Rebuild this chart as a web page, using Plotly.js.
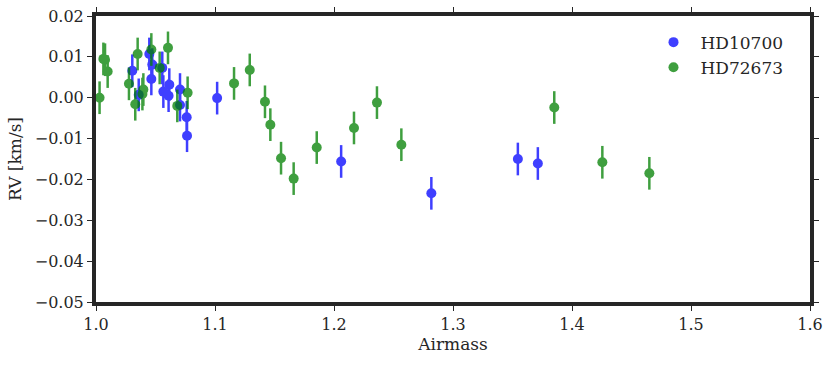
<!DOCTYPE html>
<html>
<head>
<meta charset="utf-8">
<script src="https://cdn.plot.ly/plotly-3.0.1.min.js"></script>
<style>
  html, body { margin: 0; padding: 0; background: #fff; }
  #chart { width: 830px; height: 365px; }
</style>
</head>
<body>
<div id="chart"></div>
<script>
// HD10700 (blue)
const hd10700Airmass = [1.0305, 1.0359, 1.0448, 1.0473, 1.0465, 1.0557, 1.0616, 1.0566, 1.0610,
  1.0706, 1.0706, 1.0762, 1.0765, 1.1018, 1.2060, 1.2818, 1.3545, 1.3713]
const hd10700Rv = [0.0066, 0.0007, 0.0107, 0.0081, 0.0046, 0.0073, 0.0032, 0.0015, 0.0005,
  0.0020, -0.0018, -0.0048, -0.0093, -0.0001, -0.0156, -0.0234, -0.0150, -0.0161]
const hd10700Err = [0.004, 0.004, 0.004, 0.004, 0.004, 0.004, 0.004, 0.004, 0.004,
  0.004, 0.004, 0.004, 0.004, 0.004, 0.004, 0.004, 0.004, 0.004]

// HD72673 (green)
const hd72673Airmass = [1.0030, 1.0062, 1.0076, 1.0098, 1.0277, 1.0350, 1.0330, 1.0398, 1.0390,
  1.0465, 1.0535, 1.0605, 1.0683, 1.0770, 1.1160, 1.1292, 1.1420, 1.1465, 1.1555, 1.1661,
  1.1855, 1.2168, 1.2361, 1.2566, 1.3851, 1.4255, 1.4650]
const hd72673Rv = [0.0000, 0.0095, 0.0093, 0.0064, 0.0034, 0.0107, -0.0016, 0.0020, 0.0009,
  0.0118, 0.0073, 0.0122, -0.0020, 0.0012, 0.0035, 0.0068, -0.0010, -0.0066, -0.0148, -0.0198,
  -0.0122, -0.0074, -0.0012, -0.0115, -0.0024, -0.0158, -0.0185]
const hd72673Err = [0.004, 0.004, 0.004, 0.004, 0.004, 0.004, 0.004, 0.004, 0.004,
  0.004, 0.004, 0.004, 0.004, 0.004, 0.004, 0.004, 0.004, 0.004, 0.004, 0.004,
  0.004, 0.004, 0.004, 0.004, 0.004, 0.004, 0.004]

const xTicks = [1.0, 1.1, 1.2, 1.3, 1.4, 1.5, 1.6]
const yTicks = [0.02, 0.01, 0.00, -0.01, -0.02, -0.03, -0.04, -0.05]

const font = 'DejaVu Serif, serif'
const frame = '#262626'

function series (name, x, y, err, color) {
  return {
    x: x,
    y: y,
    name: name,
    type: 'scatter',
    mode: 'markers',
    opacity: 0.75,
    marker: { color: color, size: 10, line: { width: 0 } },
    error_y: { type: 'data', array: err, visible: true, color: color, thickness: 2.5, width: 0 },
  }
}

const data = [
  series('HD10700', hd10700Airmass, hd10700Rv, hd10700Err, 'rgb(0,0,255)'),
  series('HD72673', hd72673Airmass, hd72673Rv, hd72673Err, 'rgb(0,128,0)'),
]

const fmtY = v => (v < 0 ? '\u2212' : '') + Math.abs(v).toFixed(2)

const axisBase = {
  showgrid: false,
  zeroline: false,
  showline: true,
  linewidth: 4,
  linecolor: frame,
  mirror: 'ticks',
  ticks: 'outside',
  ticklen: 5,
  tickwidth: 1,
  tickcolor: frame,
  tickfont: { family: font, size: 16, color: '#262626' },
}

const layout = {
  width: 830,
  height: 365,
  margin: { l: 96, r: 20, t: 16, b: 63 },
  paper_bgcolor: '#fff',
  plot_bgcolor: '#fff',
  showlegend: true,
  legend: {
    x: 0.771,
    y: 0.97,
    xanchor: 'left',
    yanchor: 'top',
    itemwidth: 44,
    bgcolor: 'rgba(0,0,0,0)',
    font: { family: font, size: 17, color: '#262626' },
    tracegroupgap: 0,
  },
  xaxis: Object.assign({}, axisBase, {
    range: [1.0, 1.6],
    tickvals: xTicks,
    ticktext: xTicks.map(v => v.toFixed(1)),
    title: { text: 'Airmass', font: { family: font, size: 17, color: '#262626' }, standoff: 6 },
  }),
  yaxis: Object.assign({}, axisBase, {
    range: [-0.05, 0.02],
    tickvals: yTicks,
    ticktext: yTicks.map(fmtY),
    title: { text: 'RV [km/s]', font: { family: font, size: 17, color: '#262626' }, standoff: 10 },
  }),
}

Plotly.newPlot('chart', data, layout, { displayModeBar: false, staticPlot: true })
</script>
</body>
</html>
